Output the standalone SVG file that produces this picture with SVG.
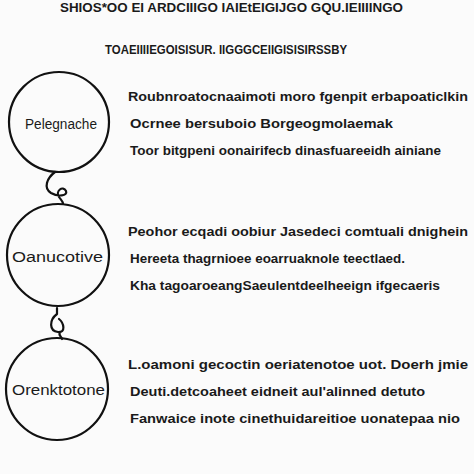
<svg xmlns="http://www.w3.org/2000/svg" width="474" height="474" viewBox="0 0 474 474">
<style>
.bg{fill:#fbfbfb}
.node{fill:none;stroke:#111;stroke-width:2.2}
.lbl{font-family:"Liberation Sans",Arial,sans-serif;font-size:14px;fill:#1a1a1a}
.txt{font-family:"Liberation Sans",Arial,sans-serif;font-size:13.5px;font-weight:bold;fill:#1a1a1a}
.ttl{font-family:"Liberation Sans",Arial,sans-serif;font-size:13px;font-weight:bold;fill:#1a1a1a}
.conn{fill:none;stroke:#111;stroke-width:2.2;stroke-linecap:round;stroke-linejoin:round}
</style>
<rect class="bg" x="0" y="0" width="474" height="474"/>
<text class="ttl" x="60" y="12" textLength="343" lengthAdjust="spacingAndGlyphs">SHIOS*OO EI ARDCIIIGO IAIEtEIGIJGO GQU.IEIIIINGO</text>
<text class="ttl" x="105" y="54" textLength="242" lengthAdjust="spacingAndGlyphs">TOAEIIIIEGOISISUR. IIGGGCEIIGISISIRSSBY</text>
<g id="connectors">
<path class="conn" d="M55,172 C47,178 43,188 51,193 C58,197 68,196 66,191 C63,185 55,191 59,197 C61,200 63,201 63,204"/>
<path class="conn" d="M57,308 L57,314 C49,320 49,331 58,332 C66,333 64,323 59,319 M60,332 C58,335 61,336 62,339"/>
</g>
<g id="node1">
<circle class="node" cx="59" cy="122" r="50"/>
<text class="lbl" x="25" y="129" textLength="72" lengthAdjust="spacingAndGlyphs">Pelegnache</text>
<text class="txt" x="128" y="101" textLength="340" lengthAdjust="spacingAndGlyphs">Roubnroatocnaaimoti moro fgenpit erbapoaticlkin</text>
<text class="txt" x="130" y="128" textLength="263" lengthAdjust="spacingAndGlyphs">Ocrnee bersuboio Borgeogmolaemak</text>
<text class="txt" x="130" y="155" textLength="311" lengthAdjust="spacingAndGlyphs">Toor bitgpeni oonairifecb dinasfuareeidh ainiane</text>
</g>
<g id="node2">
<circle class="node" cx="58" cy="255" r="51"/>
<text class="lbl" x="12" y="262" textLength="91" lengthAdjust="spacingAndGlyphs">Oanucotive</text>
<text class="txt" x="128" y="236" textLength="340" lengthAdjust="spacingAndGlyphs">Peohor ecqadi oobiur Jasedeci comtuali dnighein</text>
<text class="txt" x="130" y="263" textLength="275" lengthAdjust="spacingAndGlyphs">Hereeta thagrnioee eoarruaknole teectlaed.</text>
<text class="txt" x="130" y="290" textLength="310" lengthAdjust="spacingAndGlyphs">Kha tagoaroeangSaeulentdeelheeign ifgecaeris</text>
</g>
<g id="node3">
<circle class="node" cx="57" cy="389" r="51"/>
<text class="lbl" x="12" y="395" textLength="93" lengthAdjust="spacingAndGlyphs">Orenktotone</text>
<text class="txt" x="128" y="369" textLength="340" lengthAdjust="spacingAndGlyphs">L.oamoni gecoctin oeriatenotoe uot. Doerh jmie</text>
<text class="txt" x="130" y="396" textLength="295" lengthAdjust="spacingAndGlyphs">Deuti.detcoaheet eidneit aul'alinned detuto</text>
<text class="txt" x="130" y="423" textLength="330" lengthAdjust="spacingAndGlyphs">Fanwaice inote cinethuidareitioe uonatepaa nio</text>
</g>
</svg>
